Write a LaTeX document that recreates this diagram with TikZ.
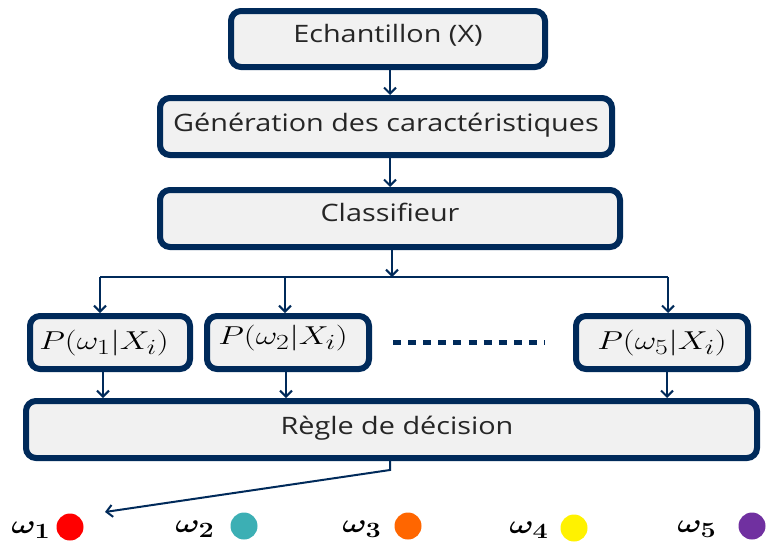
\documentclass[tikz,border=0pt]{standalone}
\usepackage{fontspec}
\usepackage{amsmath,bm}
\setmainfont{Open Sans}
\usetikzlibrary{arrows.meta}
\definecolor{navy}{HTML}{002A5A}
\definecolor{boxfill}{HTML}{F1F1F1}
\definecolor{txt}{HTML}{262626}
\definecolor{cteal}{HTML}{3CAFB4}
\definecolor{corange}{HTML}{FF6600}
\definecolor{cpurple}{HTML}{7030A0}
\newcommand{\wtxt}[1]{\scalebox{1.2}[1]{#1}}
\newcommand{\wmath}[1]{\scalebox{1.34}[1.04]{#1}}
\newcommand{\wom}[1]{\scalebox{1.3}[1.05]{#1}}
\tikzset{
  box/.style={draw=navy, line width=6pt, fill=boxfill, rounded corners=10pt, inner sep=0pt},
  lbl/.style={text=txt, inner sep=0pt, font=\fontsize{24}{28}\selectfont},
  mlbl/.style={text=black, inner sep=0pt, font=\fontsize{24.88}{29}\selectfont},
  omlbl/.style={text=black, inner sep=0pt, font=\fontsize{24.88}{30}\selectfont},
  conn/.style={draw=navy, line width=2pt, -{Straight Barb[length=6pt,width=12pt,line width=2pt]}},
  plain/.style={draw=navy, line width=2pt},
  dot/.style={circle, inner sep=0pt, minimum size=27pt},
}
\begin{document}
\begin{tikzpicture}[x=1pt,y=-1pt]
\useasboundingbox (0,0) rectangle (766,544);
\begin{scope}
\clip (0,0) rectangle (766,544);
% boxes
\node[box, minimum width=314pt, minimum height=56pt] (ech) at (388,39) {};
\node[lbl] (echt) at (388,35) {\wtxt{Echantillon (X)}};
\node[box, minimum width=452pt, minimum height=57pt] (gen) at (386,126.5) {};
\node[lbl] (gent) at (386,125) {\wtxt{Génération des caractéristiques}};
\node[box, minimum width=460pt, minimum height=57pt] (cls) at (390,218.5) {};
\node[lbl] (clst) at (390,212) {\wtxt{Classifieur}};
\node[box, minimum width=160pt, minimum height=53pt] (p1) at (110,342.5) {};
\node[mlbl] (p1t) at (104,343) {\wmath{$P(\omega_1|X_i)$}};
\node[box, minimum width=162pt, minimum height=53pt] (p2) at (288,342.5) {};
\node[mlbl] (p2t) at (283,338) {\wmath{$P(\omega_2|X_i)$}};
\node[box, minimum width=172pt, minimum height=53pt] (p5) at (662,342.5) {};
\node[mlbl] (p5t) at (662,343) {\wmath{$P(\omega_5|X_i)$}};
\node[box, minimum width=731pt, minimum height=57pt] (reg) at (391.5,429.5) {};
\node[lbl] (regt) at (397,428) {\wtxt{Règle de décision}};
% dotted separator
\coordinate (d1) at (393,342);
\coordinate (d2) at (545,342);
\draw[navy, line width=5pt, dash pattern=on 8pt off 7.1pt] (d1) -- (d2);
% connectors
\draw[conn] (ech.south -| 390,0) -- (gen.north -| 390,0);
\draw[conn] (gen.south -| 390,0) -- (cls.north -| 390,0);
\coordinate (busL) at (100,277);
\coordinate (busR) at (668,277);
\coordinate (busM) at (392,277);
\draw[conn] (cls.south -| busM) -- (busM);
\draw[plain] (busL) -- (busR);
\draw[conn] (busL) -- (p1.north -| busL);
\draw[conn] (285,277) -- (p2.north -| 285,0);
\draw[conn] (busR) -- (p5.north -| busR);
\draw[conn] (p1.south -| 103,0) -- (reg.north -| 103,0);
\draw[conn] (p2.south -| 286,0) -- (reg.north -| 286,0);
\draw[conn] (p5.south -| 667,0) -- (reg.north -| 667,0);
\coordinate (bend) at (390,470);
\coordinate (out) at (105,512);
\draw[conn] (reg.south -| bend) -- (bend) -- (out);
% classes
\node[omlbl] (o1) at (31,530) {\wom{$\bm{\omega_1}$}};
\node[dot, fill=red] (c1) at (70,527) {};
\node[omlbl] (o2) at (195,529) {\wom{$\bm{\omega_2}$}};
\node[dot, fill=cteal] (c2) at (244,526) {};
\node[omlbl] (o3) at (362,529) {\wom{$\bm{\omega_3}$}};
\node[dot, fill=corange] (c3) at (408,526) {};
\node[omlbl] (o4) at (529,530) {\wom{$\bm{\omega_4}$}};
\node[dot, fill=yellow] (c4) at (574,528) {};
\node[omlbl] (o5) at (697,529) {\wom{$\bm{\omega_5}$}};
\node[dot, fill=cpurple] (c5) at (752,526) {};
\end{scope}
\end{tikzpicture}
\end{document}
